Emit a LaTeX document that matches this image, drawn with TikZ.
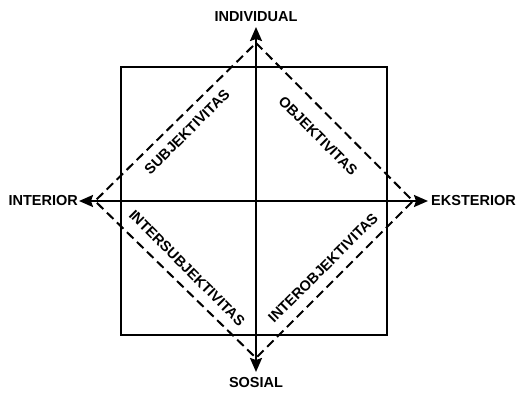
\documentclass[tikz,border=0pt]{standalone}
\usepackage{fontspec}
\setmainfont{Liberation Sans}
\usetikzlibrary{arrows.meta}
\begin{document}
\begin{tikzpicture}[x=1pt,y=-1pt,
  lbl/.style={font=\bfseries\fontsize{14.5}{14.5}\selectfont, inner sep=0pt},
  dlbl/.style={font=\bfseries\fontsize{14.5}{14.5}\selectfont, inner sep=0pt},
  axisline/.style={line width=2pt, {Stealth[length=14pt,width=12pt,inset=2pt]}-{Stealth[length=14pt,width=12pt,inset=2pt]}},
  dashline/.style={line width=2pt, dash pattern=on 9pt off 5pt},
  frame/.style={line width=2pt}
]
\useasboundingbox (0,0) rectangle (517,393);
% square
\coordinate (sqa) at (121,67);
\coordinate (sqb) at (387,335);
\draw[frame] (sqa) rectangle (sqb);
% diamond vertices
\coordinate (T) at (256,43);
\coordinate (R) at (413,201);
\coordinate (B) at (256,358);
\coordinate (L) at (95,201);
\draw[dashline] (T) -- (R) -- (B) -- (L) -- cycle;
% axis tips
\coordinate (tT) at (256,27);
\coordinate (tB) at (256,372);
\coordinate (tL) at (79,201);
\coordinate (tR) at (428,201);
\draw[axisline] (tB) -- (tT);
\draw[axisline] (tL) -- (tR);
% axis labels
\node[lbl] (ind) at (256,17) {INDIVIDUAL};
\node[lbl] (sos) at (256,383) {SOSIAL};
\node[lbl, anchor=east] (int) at (78,201) {INTERIOR};
\node[lbl, anchor=west] (eks) at (431,201) {EKSTERIOR};
% quadrant labels
\node[dlbl, rotate=45] (sub) at (187,132) {SUBJEKTIVITAS};
\node[dlbl, rotate=-45] (obj) at (318,136) {OBJEKTIVITAS};
\node[dlbl, rotate=-45] (isub) at (187,268) {INTERSUBJEKTIVITAS};
\node[dlbl, rotate=45] (iobj) at (323,268) {INTEROBJEKTIVITAS};
\end{tikzpicture}
\end{document}
